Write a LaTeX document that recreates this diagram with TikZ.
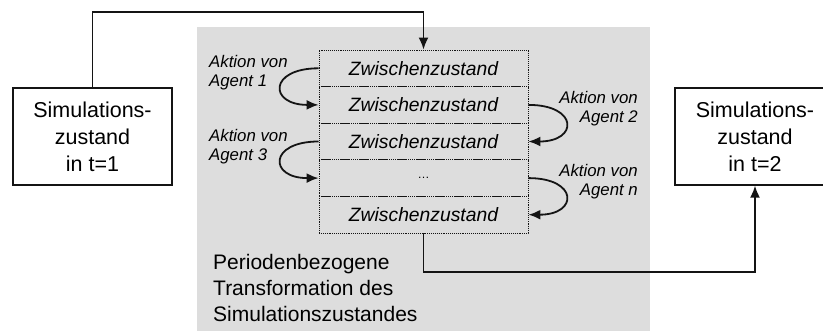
\documentclass[tikz,border=0pt]{standalone}
\usepackage{fontspec}
\setmainfont{Liberation Sans}
\usetikzlibrary{arrows.meta,positioning,calc}
\definecolor{ink}{RGB}{20,20,20}
\definecolor{bg}{RGB}{221,221,221}

\begin{document}
\begin{tikzpicture}[x=1pt,y=-1pt,>={Latex[length=12pt,width=10pt]},
  zust/.style={draw=ink,line width=1.3pt,fill=white,align=center,minimum height=97pt,inner sep=0pt,font=\fontsize{21.5}{27}\selectfont},
  zwi/.style={draw=ink,densely dotted,line width=0.9pt,minimum width=209pt,minimum height=36.6pt,inner sep=0pt,font=\fontsize{19.3}{20}\selectfont\itshape},
  akt/.style={font=\fontsize{16.8}{19.5}\selectfont\itshape,inner sep=0pt},
  flow/.style={ink,line width=1.8pt}]
 \clip (0,0) rectangle (823,331);
 \useasboundingbox (0,0) rectangle (823,331);
 % grey period area
 \fill[bg] (197,27) rectangle (650,335);
 \node[align=left,anchor=north west,inner sep=0pt,font=\fontsize{21}{26}\selectfont] (periode) at (213,254)
   {Periodenbezogene\\Transformation des\\Simulationszustandes};
 % states before and after
 \node[zust,minimum width=159pt] (links) at (92.5,136.5) {Simulations-\\zustand\\in t=1};
 \node[zust,minimum width=160pt] (rechts) at (755,136.5) {Simulations-\\zustand\\in t=2};
 % stack of intermediate states
 \foreach \i/\t in {1/Zwischenzustand,2/Zwischenzustand,3/Zwischenzustand,4/{\upshape\fontsize{12}{12}\selectfont\dots},5/Zwischenzustand}
   \node[zwi] (z\i) at (423.5,{50+36.6*(\i-0.5)}) {\t};
 % agent actions
 \draw[flow,->] (z1.west) .. controls +(-50,0) and +(-50,0) .. (z2.west);
 \draw[flow,->] (z3.west) .. controls +(-50,0) and +(-50,0) .. (z4.west);
 \draw[flow,->] (z2.east) .. controls +(50,0) and +(50,0) .. (z3.east);
 \draw[flow,->] (z4.east) .. controls +(50,0) and +(50,0) .. (z5.east);
 \node[akt,align=left,anchor=north west] (a1) at (209,55) {Aktion von\\Agent 1};
 \node[akt,align=left,anchor=north west] (a3) at (209,129) {Aktion von\\Agent 3};
 \node[akt,align=right,anchor=north east] (a2) at (638,91) {Aktion von\\Agent 2};
 \node[akt,align=right,anchor=north east] (an) at (638,164) {Aktion von\\Agent n};
 % in and out of the period
 \coordinate (oben) at (300,12);
 \coordinate (unten) at (600,272);
 \draw[flow,->] (links.north) |- (oben) -| (z1.north);
 \draw[flow,->] (z5.south) |- (unten) -| (rechts.south);
\end{tikzpicture}
\end{document}
